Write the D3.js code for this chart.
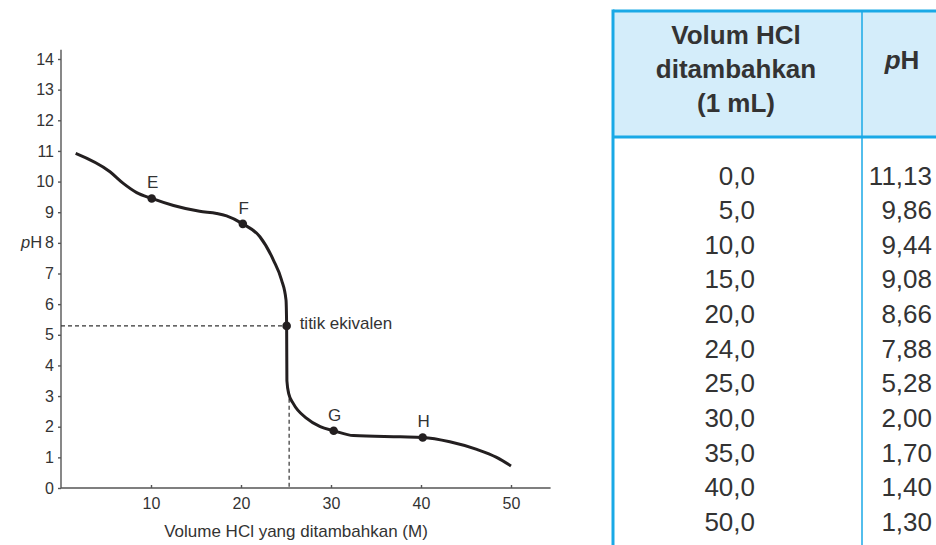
<!DOCTYPE html>
<html><head><meta charset="utf-8">
<script src="https://cdn.jsdelivr.net/npm/d3@7"></script>
<style>html,body{margin:0;padding:0;background:#fff;}svg{display:block;font-family:"Liberation Sans",Arial,sans-serif;}</style>
</head><body>
<svg id="c" width="936" height="545"></svg>
<script>
// Titration curve (schematic)
const curveVol = [1.63, 5.44, 6.92, 8.41, 10.08, 12.5, 15.4, 17.3, 18.4, 20.2, 22.1, 23.6, 24.5, 25.0, 25.07, 25.1, 25.3, 25.8, 27.3, 28.8, 30.3, 32.5, 37.7, 40.19, 43.2, 46.2, 48.4, 50];
const curvePH  = [10.92, 10.32, 9.94, 9.64, 9.45, 9.22, 9.03, 8.96, 8.88, 8.62, 8.2, 7.44, 6.79, 6.14, 5.29, 3.5, 3.08, 2.76, 2.27, 2.0, 1.87, 1.71, 1.67, 1.65, 1.51, 1.26, 1.00, 0.72];
// Marked points
const markLabels = ["E", "F", "titik ekivalen", "G", "H"];
const markVol = [10.08, 20.2, 25.07, 30.3, 40.19];
const markPH  = [9.45, 8.62, 5.29, 1.87, 1.65];
// Axis ticks
const xTicks = [10, 20, 30, 40, 50];
const yTicks = [0,1,2,3,4,5,6,7,8,9,10,11,12,13,14];
// Table data
const tableVol = [0, 5, 10, 15, 20, 24, 25, 30, 35, 40, 50];
const tablePH  = [11.13, 9.86, 9.44, 9.08, 8.66, 7.88, 5.28, 2.00, 1.70, 1.40, 1.30];
const headerLines = ["Volum HCl", "ditambahkan", "(1 mL)"];

const svg = d3.select("#c");
const x = d3.scaleLinear().domain([0, 50]).range([61, 511]);
const y = d3.scaleLinear().domain([0, 14]).range([488, 59]);
const ink = "#333";

// axes
const gx = svg.append("g").attr("transform", "translate(0,488)")
  .call(d3.axisBottom(x).tickValues(xTicks).tickSizeInner(-3).tickSizeOuter(0).tickPadding(10));
gx.select(".domain").attr("d", `M${x(0)},0H${x(54.4)}`);
const gy = svg.append("g").attr("transform", "translate(61,0)")
  .call(d3.axisLeft(y).tickValues(yTicks).tickSizeInner(3).tickSizeOuter(0).tickPadding(4));
gy.select(".domain").attr("d", `M0,${y(0)}V${y(14.3)}`);
[gx, gy].forEach(g => {
  g.selectAll("path,line").attr("stroke", "#555").attr("stroke-width", 1.4);
  g.selectAll("text").attr("fill", ink).attr("font-size", 16).attr("font-family", "Liberation Sans, Arial, sans-serif");
});

// dashed guides
const eqV = markVol[2], eqP = markPH[2];
svg.append("line").attr("x1", x(0)).attr("x2", x(eqV)).attr("y1", y(eqP)).attr("y2", y(eqP))
  .attr("stroke", "#333").attr("stroke-width", 1.2).attr("stroke-dasharray", "4,3");
svg.append("line").attr("x1", x(eqV) + 2.5).attr("x2", x(eqV) + 2.5).attr("y1", y(3.14)).attr("y2", y(0))
  .attr("stroke", "#333").attr("stroke-width", 1.2).attr("stroke-dasharray", "4,3");

// curve
const pts = curveVol.map((v, i) => [x(v), y(curvePH[i])]);
svg.append("path").attr("d", d3.line().curve(d3.curveMonotoneX)(pts))
  .attr("fill", "none").attr("stroke", "#231f20").attr("stroke-width", 3).attr("stroke-linecap", "butt");

// markers
markVol.forEach((v, i) => {
  svg.append("circle").attr("cx", x(v)).attr("cy", y(markPH[i])).attr("r", 4.3).attr("fill", "#231f20");
  const lab = markLabels[i];
  const t = svg.append("text").attr("fill", ink).attr("font-size", 17).text(lab);
  if (lab.length > 1) t.attr("x", x(v) + 13).attr("y", y(markPH[i]) + 3);
  else t.attr("x", x(v) + 1).attr("y", y(markPH[i]) - 10).attr("text-anchor", "middle");
});

// axis titles
const yl = svg.append("text").attr("x", 21).attr("y", 248).attr("fill", ink).attr("font-size", 16.5);
yl.append("tspan").attr("font-style", "italic").text("p");
yl.append("tspan").text("H");
svg.append("text").attr("x", 296).attr("y", 537).attr("text-anchor", "middle").attr("fill", ink)
  .attr("font-size", 17).text("Volume HCl yang ditambahkan (M)");

// table
const border = "#1aa9e6";
const tL = 613, tT = 11, tR = 940, hB = 137, colX = 862;
svg.append("rect").attr("x", tL).attr("y", tT).attr("width", tR - tL).attr("height", hB - tT).attr("fill", "#d4edfa");
svg.append("line").attr("x1", tL).attr("x2", tL).attr("y1", tT - 1.5).attr("y2", 545).attr("stroke", border).attr("stroke-width", 3);
svg.append("line").attr("x1", tL).attr("x2", tR).attr("y1", tT).attr("y2", tT).attr("stroke", border).attr("stroke-width", 3);
svg.append("line").attr("x1", tL).attr("x2", tR).attr("y1", hB).attr("y2", hB).attr("stroke", border).attr("stroke-width", 3);
svg.append("line").attr("x1", colX).attr("x2", colX).attr("y1", tT).attr("y2", 545).attr("stroke", border).attr("stroke-width", 1.5);

headerLines.forEach((s, i) => {
  svg.append("text").attr("x", 736).attr("y", 44 + i * 34).attr("text-anchor", "middle")
    .attr("font-size", 26).attr("font-weight", "bold").attr("fill", ink).text(s);
});
const ph = svg.append("text").attr("x", 902).attr("y", 69).attr("text-anchor", "middle")
  .attr("font-size", 26).attr("font-weight", "bold").attr("fill", ink);
ph.append("tspan").attr("font-style", "italic").text("p");
ph.append("tspan").text("H");

const loc = d3.formatLocale({decimal: ",", thousands: ".", grouping: [3], currency: ["", ""]});
const f1 = loc.format(".1f"), f2 = loc.format(".2f");
const row = d3.scaleLinear().domain([0, 10]).range([184.5, 531]);
tableVol.forEach((v, i) => {
  svg.append("text").attr("x", 755).attr("y", row(i)).attr("text-anchor", "end")
    .attr("font-size", 26).attr("fill", ink).text(f1(v));
  svg.append("text").attr("x", 932).attr("y", row(i)).attr("text-anchor", "end")
    .attr("font-size", 26).attr("fill", ink).text(f2(tablePH[i]));
});
</script>
</body></html>
